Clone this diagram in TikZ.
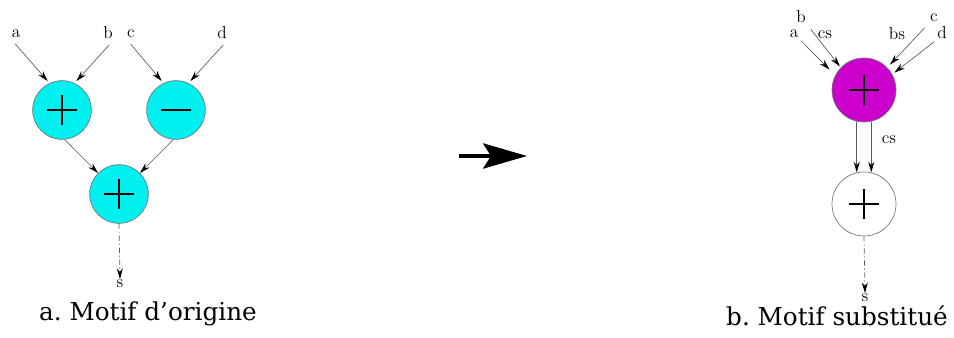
\documentclass[tikz,border=0pt]{standalone}
\usepackage{fontspec}
\newfontfamily\capfont{DejaVu Serif}
\definecolor{opcyan}{HTML}{00F0F0}
\definecolor{opmagenta}{HTML}{CC00CC}
\usepackage{tikz}
\usetikzlibrary{arrows.meta}

\tikzset{
  op/.style={circle, draw=black!55, line width=0.5pt, minimum size=44pt, inner sep=0pt},
  plussign/.style={path picture={
    \draw[draw=black, line width=2pt] ([xshift=-11pt]path picture bounding box.center) -- ([xshift=11pt]path picture bounding box.center)
      ([yshift=-11pt]path picture bounding box.center) -- ([yshift=11pt]path picture bounding box.center);}},
  minussign/.style={path picture={
    \draw[draw=black, line width=2pt] ([xshift=-11pt]path picture bounding box.center) -- ([xshift=11pt]path picture bounding box.center);}},
  lbl/.style={inner sep=0.5pt, font=\fontsize{13}{14}\selectfont},
  conn/.style={draw=black!65, line width=0.5pt, -{Stealth[length=8pt, width=4.5pt, color=black]}},
  outconn/.style={conn, dash pattern=on 4pt off 2pt on 1pt off 2pt},
  caption/.style={font=\capfont\fontsize{18.5}{20}\selectfont\frenchspacing}
}

\begin{document}
\begin{tikzpicture}[x=0.75pt, y=-0.75pt]
\useasboundingbox (0,0) rectangle (954,338);

% motif d'origine
\node[op, fill=opcyan, plussign] (addA) at (62,110) {};
\node[op, fill=opcyan, minussign] (subB) at (176,110) {};
\node[op, fill=opcyan, plussign] (addC) at (119,194) {};

\node[lbl] (la) at (16,34) {a};
\node[lbl] (lb) at (108,33) {b};
\node[lbl] (lc) at (131,34) {c};
\node[lbl] (ld) at (222,33) {d};
\node[lbl] (ls) at (120,284) {s};

\draw[conn, shorten <=5pt, shorten >=2pt] (la.south west) -- (addA.115);
\draw[conn, shorten <=5pt, shorten >=2pt] (lb.south east) -- (addA.65);
\draw[conn, shorten <=5pt, shorten >=2pt] (lc.south west) -- (subB.115);
\draw[conn, shorten <=5pt, shorten >=2pt] (ld.south east) -- (subB.65);
\draw[conn] (addA.-85) -- (addC.135);
\draw[conn] (subB.-95) -- (addC.45);
\draw[outconn] (addC.south) -- (ls.north);

\node[caption] (capA) at (148,314) {a. Motif d’origine};

% fleche de substitution
\coordinate (bigtail) at (459,156);
\coordinate (bighead) at (527,156);
\draw[line width=2.5pt, -{Stealth[length=33pt, width=19pt, inset=6pt]}] (bigtail) -- (bighead);

% motif substitue
\node[op, fill=opmagenta, plussign, minimum size=48pt] (addM) at (864,90) {};
\node[op, fill=white, plussign, minimum size=48pt] (addW) at (864,204) {};

\node[lbl] (rb) at (801,17) {b};
\node[lbl] (ra) at (794,34) {a};
\node[lbl] (rcs) at (825,35) {cs};
\node[lbl] (rbs) at (897,34) {bs};
\node[lbl] (rc) at (934,18) {c};
\node[lbl] (rd) at (942,33) {d};
\node[lbl] (mcs) at (889,140) {cs};
\node[lbl] (rs) at (865,298) {s};

\draw[conn, shorten <=5pt, shorten >=1pt] (rb.south east) -- (addM.136);
\draw[conn, shorten <=2pt, shorten >=6pt] (ra.south east) -- (addM.153);
\draw[conn, shorten <=5pt, shorten >=3pt] (rc.south west) -- (addM.44);
\draw[conn, shorten <=2pt, shorten >=2pt] (rd.south west) -- (addM.29);
\draw[conn] (addM.-103) -- (addW.103);
\draw[conn] (addM.-77) -- (addW.77);
\draw[outconn] (addW.south) -- (rs.north);

\node[caption] (capB) at (837,316) {b. Motif substitué};
\end{tikzpicture}
\end{document}
